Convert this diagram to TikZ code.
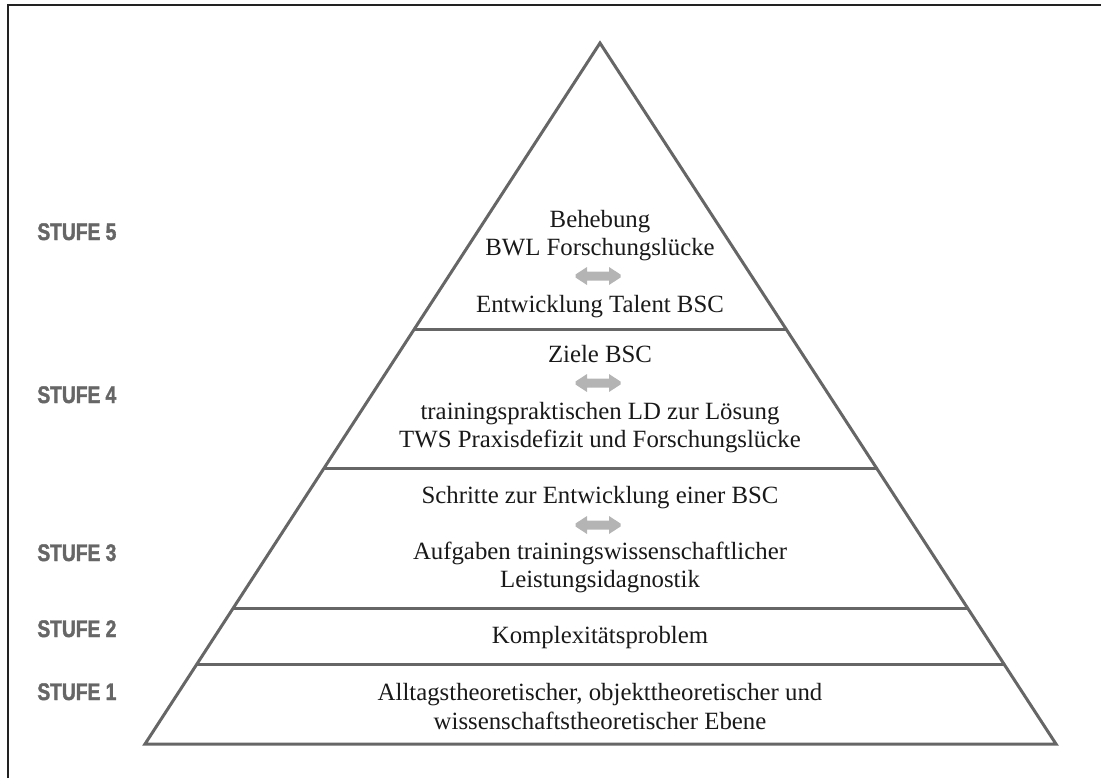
\documentclass[tikz,border=0pt]{standalone}
\usepackage{fontspec}
\setmainfont{Liberation Serif}
\newfontfamily\stufefont[FakeStretch=0.8, FakeBold=1.6]{Liberation Sans Bold}
\usetikzlibrary{calc}
\definecolor{edge}{HTML}{666666}
\definecolor{labelgray}{HTML}{666666}
\definecolor{arrowgray}{HTML}{B4B4B4}
\definecolor{framec}{HTML}{222222}

% double-headed block arrow centred on a given point
\newcommand\swaparrow[2]{%
  \fill[arrowgray, shift={(#1)}] (-22.5,-1.5) -- (-11,-9) -- (-11,-4.5) -- (11,-4.5)
    -- (11,-9) -- (22.5,-1.5) -- (22.5,1.5) -- (11,9) -- (11,4.5) -- (-11,4.5) -- (-11,9)
    -- (-22.5,1.5) -- cycle;
  \coordinate (#2) at (#1);}

\begin{document}
\begin{tikzpicture}[x=0.5pt, y=-0.5pt,
  tri/.style={draw=edge, line width=1.5pt, line join=miter},
  txt/.style={font=\fontsize{12.4}{14.4}\selectfont, align=center, inner sep=0pt, text=black!90},
  stufe/.style={font=\stufefont\fontsize{12}{14}\selectfont, text=labelgray, anchor=base west, inner sep=0pt}]
\useasboundingbox (0,0) rectangle (1101,778);

% outer frame (left and top edges)
\draw[framec, line width=1pt] (8,778) -- (8,5) -- (1101,5);

% pyramid
\coordinate (apex) at (600,43);
\coordinate (bl) at (145,744);
\coordinate (br) at (1056,744);
\draw[tri] (apex) -- (br) -- (bl) -- cycle;

% level boundaries
\foreach \t/\n in {0.4094/a, 0.6063/b, 0.8060/c, 0.8859/d} {
  \coordinate (l\n) at ($(apex)!\t!(bl)$);
  \coordinate (r\n) at ($(apex)!\t!(br)$);
  \draw[tri] (l\n) -- (r\n);
}

% level 5
\node[txt] (s5a) at (600,235.5) {Behebung\\BWL Forschungslücke};
\swaparrow{598,276}{x5}
\node[txt, anchor=base] (s5b) at (600,312) {Entwicklung Talent BSC};

% level 4
\node[txt, anchor=base] (s4a) at (600,362) {Ziele BSC};
\swaparrow{598,383}{x4}
\node[txt] (s4b) at (600,427.5) {trainingspraktischen LD zur Lösung\\TWS Praxisdefizit und Forschungslücke};

% level 3
\node[txt, anchor=base] (s3a) at (600,503) {Schritte zur Entwicklung einer BSC};
\swaparrow{598,525}{x3}
\node[txt] (s3b) at (600,567.5) {Aufgaben trainingswissenschaftlicher\\Leistungsidagnostik};

% level 2
\node[txt, anchor=base] (s2) at (600,643) {Komplexitätsproblem};

% level 1
\node[txt] (s1) at (600,706.5) {Alltagstheoretischer, objekttheoretischer und\\wissenschaftstheoretischer Ebene};

% level labels
\node[stufe] (k5) at (37,240) {STUFE 5};
\node[stufe] (k4) at (37,403) {STUFE 4};
\node[stufe] (k3) at (37,561) {STUFE 3};
\node[stufe] (k2) at (37,637) {STUFE 2};
\node[stufe] (k1) at (37,700) {STUFE 1};
\end{tikzpicture}
\end{document}
